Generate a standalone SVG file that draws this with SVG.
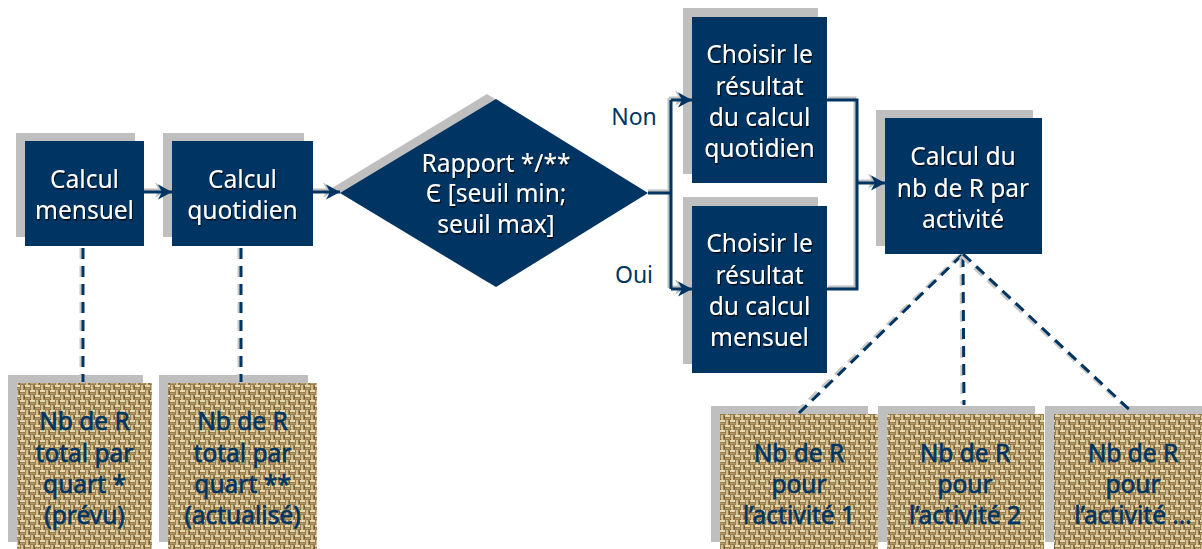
<svg xmlns="http://www.w3.org/2000/svg" width="1202" height="549" viewBox="0 0 1202 549">
<style>
.sh{fill:#bfbfbf}
.box{fill:#003462}
.tex{fill:url(#burlap)}
.wt{font-family:"Noto Sans",sans-serif;font-size:24.5px;fill:#fff;text-anchor:middle;filter:url(#ts)}
.nt{font-family:"Noto Sans",sans-serif;font-size:24.5px;fill:#003462;stroke:#003462;stroke-width:0.6;text-anchor:middle}
.lb{font-family:"Noto Sans",sans-serif;font-size:23px;fill:#003462;text-anchor:middle}
.ln{fill:none;stroke:#003462;stroke-width:3}
.lns{fill:none;stroke:#bfbfbf;stroke-width:3}
.dl{fill:none;stroke:#003462;stroke-width:3;stroke-dasharray:11 7}
.dls{fill:none;stroke:#c8c8c8;stroke-width:3;stroke-dasharray:11 7}
</style>
<defs>
<filter id="ts" x="-10%" y="-10%" width="120%" height="130%">
<feDropShadow dx="1" dy="1.5" stdDeviation="0.4" flood-color="#000" flood-opacity="0.8"/>
</filter>
<pattern id="burlap" width="10" height="10" patternUnits="userSpaceOnUse">
<rect width="10" height="10" fill="#9a8050"/>
<rect x="0" y="0" width="5" height="2" fill="#e6d8b0"/>
<rect x="5" y="5" width="5" height="2" fill="#e6d8b0"/>
<rect x="6" y="0" width="2" height="5" fill="#d2be8e"/>
<rect x="1" y="5" width="2" height="5" fill="#d2be8e"/>
<rect x="0" y="3" width="5" height="1" fill="#b49c6a"/>
<rect x="5" y="8" width="5" height="1" fill="#b49c6a"/>
<rect x="9" y="1" width="1" height="3" fill="#6e5830"/>
<rect x="4" y="6" width="1" height="3" fill="#6e5830"/>
<rect x="0" y="9" width="1" height="1" fill="#6e5830"/>
</pattern>
<marker id="ah" viewBox="0 0 16 16" refX="15" refY="8" markerWidth="16" markerHeight="16" markerUnits="userSpaceOnUse" orient="auto">
<path d="M1,0.5 L15,8 L1,15.5 L5,8 Z" fill="#003462"/>
</marker>
<marker id="ahs" viewBox="0 0 16 16" refX="15" refY="8" markerWidth="16" markerHeight="16" markerUnits="userSpaceOnUse" orient="auto">
<path d="M1,0.5 L15,8 L1,15.5 L5,8 Z" fill="#bfbfbf"/>
</marker>
</defs>

<g id="n-mensuel">
<rect class="sh" x="16" y="133" width="119" height="104"/>
<rect class="box" x="25" y="141" width="119" height="105"/>
<text class="wt" x="84.5" y="188">Calcul</text>
<text class="wt" x="84.5" y="219">mensuel</text>
</g>
<g id="n-quotidien">
<rect class="sh" x="163" y="133" width="141" height="104"/>
<rect class="box" x="172" y="141" width="141" height="105"/>
<text class="wt" x="242.5" y="188">Calcul</text>
<text class="wt" x="242.5" y="219">quotidien</text>
</g>
<g id="n-rapport">
<polygon class="sh" points="332,188 487,94 639,188 487,282"/>
<polygon class="box" points="340,193 496,99 648,193 496,287"/>
<text class="wt" x="496" y="172">Rapport */**</text>
<text class="wt" x="496" y="202">Є [seuil min;</text>
<text class="wt" x="496" y="233">seuil max]</text>
</g>
<g id="labels">
<text class="lb" x="634" y="125">Non</text>
<text class="lb" x="634" y="283">Oui</text>
</g>
<g id="n-choix-quotidien">
<rect class="sh" x="683" y="8" width="135" height="166"/>
<rect class="box" x="692" y="17" width="135" height="166"/>
<text class="wt" x="759.5" y="63">Choisir le</text>
<text class="wt" x="759.5" y="95">résultat</text>
<text class="wt" x="759.5" y="126">du calcul</text>
<text class="wt" x="759.5" y="157">quotidien</text>
</g>
<g id="n-choix-mensuel">
<rect class="sh" x="683" y="197" width="135" height="167"/>
<rect class="box" x="692" y="206" width="135" height="167"/>
<text class="wt" x="759.5" y="252">Choisir le</text>
<text class="wt" x="759.5" y="284">résultat</text>
<text class="wt" x="759.5" y="315">du calcul</text>
<text class="wt" x="759.5" y="346">mensuel</text>
</g>
<g id="n-activite">
<rect class="sh" x="876" y="110" width="157" height="136"/>
<rect class="box" x="885" y="118" width="157" height="136"/>
<text class="wt" x="963" y="165">Calcul du</text>
<text class="wt" x="963" y="197">nb de R par</text>
<text class="wt" x="963" y="228">activité</text>
</g>
<g id="n-prevu">
<rect class="sh" x="8" y="375" width="135" height="167"/>
<rect class="tex" x="17" y="383" width="135" height="170"/>
<text class="nt" x="84.5" y="430">Nb de R</text>
<text class="nt" x="84.5" y="462">total par</text>
<text class="nt" x="84.5" y="493">quart *</text>
<text class="nt" x="84.5" y="524">(prévu)</text>
</g>
<g id="n-actualise">
<rect class="sh" x="159" y="375" width="149" height="167"/>
<rect class="tex" x="168" y="383" width="149" height="170"/>
<text class="nt" x="242.5" y="430">Nb de R</text>
<text class="nt" x="242.5" y="462">total par</text>
<text class="nt" x="242.5" y="493">quart **</text>
<text class="nt" x="242.5" y="524">(actualisé)</text>
</g>
<g id="n-act1">
<rect class="sh" x="711" y="406" width="157" height="136"/>
<rect class="tex" x="720" y="414" width="158" height="140"/>
<text class="nt" x="799" y="462">Nb de R</text>
<text class="nt" x="799" y="493">pour</text>
<text class="nt" x="799" y="524">l’activité 1</text>
</g>
<g id="n-act2">
<rect class="sh" x="878" y="406" width="157" height="136"/>
<rect class="tex" x="887" y="414" width="157" height="140"/>
<text class="nt" x="965" y="462">Nb de R</text>
<text class="nt" x="965" y="493">pour</text>
<text class="nt" x="965" y="524">l’activité 2</text>
</g>
<g id="n-act3">
<rect class="sh" x="1045" y="406" width="157" height="136"/>
<rect class="tex" x="1054" y="414" width="157" height="140"/>
<text class="nt" x="1133" y="462">Nb de R</text>
<text class="nt" x="1133" y="493">pour</text>
<text class="nt" x="1133" y="524">l’activité …</text>
</g>

<g id="connectors">
<!-- left solid arrows -->
<line class="lns" x1="144" y1="190" x2="169" y2="190" marker-end="url(#ahs)"/>
<line class="ln" x1="144" y1="192" x2="172" y2="192" marker-end="url(#ah)"/>
<line class="lns" x1="313" y1="190" x2="337" y2="190" marker-end="url(#ahs)"/>
<line class="ln" x1="313" y1="192" x2="340" y2="192" marker-end="url(#ah)"/>
<!-- branch -->
<path class="lns" d="M648,191 H669 M669,98 V288"/>
<line class="lns" x1="669" y1="98" x2="689" y2="98" marker-end="url(#ahs)"/>
<line class="lns" x1="669" y1="287" x2="689" y2="287" marker-end="url(#ahs)"/>
<path class="ln" d="M648,193 H671 M671,100 V289"/>
<line class="ln" x1="671" y1="100" x2="692" y2="100" marker-end="url(#ah)"/>
<line class="ln" x1="671" y1="289" x2="692" y2="289" marker-end="url(#ah)"/>
<!-- merge -->
<path class="lns" d="M828,98 H855 V287 H828"/>
<line class="lns" x1="855" y1="181" x2="882" y2="181" marker-end="url(#ahs)"/>
<path class="ln" d="M827,100 H857 V289 H827"/>
<line class="ln" x1="857" y1="183" x2="885" y2="183" marker-end="url(#ah)"/>
<!-- dashed -->
<line class="dls" x1="81" y1="248" x2="81" y2="381"/>
<line class="dl" x1="83" y1="248" x2="83" y2="382"/>
<line class="dls" x1="239" y1="248" x2="239" y2="381"/>
<line class="dl" x1="241" y1="248" x2="241" y2="382"/>
<line class="dls" x1="960" y1="255" x2="796" y2="412"/>
<line class="dl" x1="962" y1="255" x2="799" y2="413"/>
<line class="dls" x1="961" y1="257" x2="962" y2="404"/>
<line class="dl" x1="963" y1="256" x2="964" y2="405"/>
<line class="dls" x1="961" y1="256" x2="1130" y2="412"/>
<line class="dl" x1="963" y1="254" x2="1133" y2="413"/>
</g>
</svg>
